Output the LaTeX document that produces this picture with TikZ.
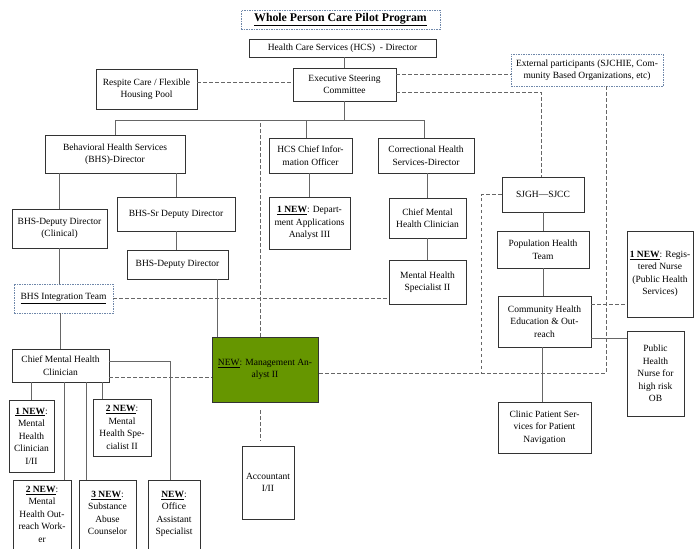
\documentclass[tikz,border=0pt]{standalone}
\usepackage{fontspec}
\setmainfont{Liberation Serif}
\begin{document}
\begin{tikzpicture}[x=1pt,y=-1pt,
  box/.style={draw=black!80, line width=0.9pt, fill=white, inner sep=0pt, align=center, font=\fontsize{9.5}{12.5}\selectfont},
  dbox/.style={draw={rgb,255:red,110;green,135;blue,170}, line width=0.8pt, dash pattern=on 1.5pt off 1pt, fill=white, inner sep=0pt, align=center, font=\fontsize{9.5}{12.5}\selectfont},
  txt/.style={inner sep=0pt, align=center, font=\fontsize{9.5}{12.5}\selectfont},
  con/.style={draw=black!60, line width=1pt},
  dcon/.style={draw=black!60, line width=0.9pt, dash pattern=on 3.5pt off 2.5pt}]
\useasboundingbox (0,0) rectangle (694,549);
\clip (0,0) rectangle (694,549);
\definecolor{olive}{RGB}{102,150,0}
% ---- nodes
\node[dbox, minimum width=199, minimum height=19, font=\fontsize{11.8}{13}\selectfont\bfseries] (title) at (340.5,19.5) {\underline{Whole Person Care Pilot Program}};
\node[box, minimum width=187, minimum height=18] (hcs) at (342.5,48) {Health Care Services (HCS) \ - Director};
\node[box, minimum width=103, minimum height=33] (exec) at (344.5,84.5) {Executive Steering\\Committee};
\node[box, minimum width=101, minimum height=40] (respite) at (146.5,89) {Respite Care / Flexible\\Housing Pool};
\node[dbox, minimum width=152, minimum height=32] (ext) at (587,70) {External participants (SJCHIE, Com-\\munity Based Organizations, etc)};
\node[box, minimum width=140, minimum height=38] (bhs) at (115,154) {Behavioral Health Services\\(BHS)-Director};
\node[box, minimum width=83, minimum height=35] (cio) at (310.5,155.5) {HCS Chief Infor-\\mation Officer};
\node[box, minimum width=96, minimum height=35] (corr) at (426,155.5) {Correctional Health\\Services-Director};
\node[box, minimum width=95, minimum height=39] (clinical) at (59.5,228.5) {BHS-Deputy Director\\(Clinical)};
\node[box, minimum width=118, minimum height=34] (sr) at (176,214) {BHS-Sr Deputy Director};
\node[box, minimum width=101, minimum height=29] (dep) at (177.5,264.5) {BHS-Deputy Director};
\node[box, minimum width=81, minimum height=52] (daa) at (309.5,223) {\underline{\textbf{1 NEW}}: Depart-\\ment Applications\\Analyst III};
\node[box, minimum width=77, minimum height=40] (cmhcR) at (427.5,218) {Chief Mental\\Health Clinician};
\node[box, minimum width=77, minimum height=44] (mhsR) at (427.5,282) {Mental Health\\Specialist II};
\node[dbox, minimum width=99, minimum height=29] (integ) at (63.5,298.5) {\underline{BHS Integration Team}};
\node[box, minimum width=106, minimum height=65, fill=olive] (ma) at (265,369.5) {\underline{NEW}: Management An-\\alyst II};
\node[box, minimum width=97, minimum height=33] (cmhcL) at (60.5,365.5) {Chief Mental Health\\Clinician};
\node[box, minimum width=82, minimum height=35] (sjgh) at (543,194.5) {SJGH—SJCC};
\node[box, minimum width=92, minimum height=37] (pop) at (543,249.5) {Population Health\\Team};
\node[box, minimum width=93, minimum height=51] (che) at (544.5,321.5) {Community Health\\Education \& Out-\\reach};
\node[box, minimum width=93, minimum height=51] (clinic) at (544.5,427.5) {Clinic Patient Ser-\\vices for Patient\\Navigation};
\node[box, minimum width=66, minimum height=86] (rn) at (660,274) {\underline{\textbf{1 NEW}}: Regis-\\tered Nurse\\(Public Health\\Services)};
\node[box, minimum width=57, minimum height=85] (phn) at (655.5,373.5) {Public\\Health\\Nurse for\\high risk\\OB};
\node[box, minimum width=45, minimum height=72] (mhc1) at (31.5,436) {\underline{\textbf{1 NEW}}:\\Mental\\Health\\Clinician\\I/II};
\node[box, minimum width=58, minimum height=57] (mhsL) at (122,427.5) {\underline{\textbf{2 NEW}}:\\Mental\\Health Spe-\\cialist II};
\node[box, minimum width=58, minimum height=80] (outreach) at (42,520) {};
\node[txt, anchor=north] at (42,486) {\underline{\textbf{2 NEW}}:\\Mental\\Health Out-\\reach Work-\\er};
\node[box, minimum width=57, minimum height=80] (sac) at (107.5,520) {};
\node[txt, anchor=north] at (107.5,491) {\underline{\textbf{3 NEW}}:\\Substance\\Abuse\\Counselor};
\node[box, minimum width=52, minimum height=80] (oas) at (174,520) {};
\node[txt, anchor=north] at (174,491) {\underline{\textbf{NEW}}:\\Office\\Assistant\\Specialist};
\node[box, minimum width=52, minimum height=73] (acct) at (268,482.5) {Accountant\\I/II};
% ---- solid connectors
\coordinate (busy) at (0,120);
\draw[con] (hcs.south -| exec.north) -- (exec.north);
\draw[con] (exec.south) -- (exec.south |- busy);
\draw[con] (bhs.north) -- (bhs.north |- busy) -- ([xshift=-2]corr.north |- busy) -- ([xshift=-2]corr.north);
\draw[con] ([xshift=-4.5]cio.north) -- ([xshift=-4.5]cio.north |- busy);
\draw[con] (clinical.north) -- (clinical.north |- bhs.south);
\draw[con] (sr.north) -- (sr.north |- bhs.south);
\draw[con] ([xshift=-1]dep.north) -- ([xshift=-1]dep.north |- sr.south);
\draw[con] ([xshift=39.5]dep.south) -- ([xshift=39.5]dep.south |- ma.north);
\draw[con] (daa.north) -- (daa.north |- cio.south);
\draw[con] (cmhcR.north) -- (cmhcR.north |- corr.south);
\draw[con] (mhsR.north) -- (mhsR.north |- cmhcR.south);
\draw[con] (clinical.south) -- (clinical.south |- integ.north);
\draw[con] (cmhcL.north) -- (cmhcL.north |- integ.south);
\draw[con] (mhc1.north) -- (mhc1.north |- cmhcL.south);
\draw[con] ([xshift=22]outreach.north) -- ([xshift=22]outreach.north |- cmhcL.south);
\draw[con] ([xshift=-21.5]sac.north) -- ([xshift=-21.5]sac.north |- cmhcL.south);
\draw[con] ([xshift=-20]mhsL.north) -- ([xshift=-20]mhsL.north |- cmhcL.south);
\draw[con] ([yshift=4.5]cmhcL.east) -| ([xshift=-4]oas.north);
\draw[con] (sjgh.south) -- (sjgh.south |- pop.north);
\draw[con] (pop.south) -- (pop.south |- che.north);
\draw[con] ([xshift=-2]che.south) -- ([xshift=-2]che.south |- clinic.north);
\draw[con] ([yshift=-16.5]che.east) coordinate (c3) -- (c3 -| phn.west);
% ---- dashed connectors
\draw[dcon] ([yshift=7]respite.east) coordinate (r1) -- (r1 -| exec.west);
\draw[dcon] ([yshift=10.5]exec.east) coordinate (e1) -- (e1 -| ext.west);
\draw[dcon] ([yshift=-7.5]exec.east) -| ([xshift=-2]sjgh.north);
\draw[dcon] ([xshift=-5]ma.north) -- ([xshift=-5]ma.north |- busy);
\draw[dcon] (integ.east) -- (integ.east -| mhsR.west);
\draw[dcon] ([yshift=-11.5]cmhcL.east) coordinate (c1) -- (c1 -| ma.west);
\draw[dcon] ([xshift=19]ext.south) |- ([yshift=-3.5]ma.east);
\coordinate (lx) at (481,373);
\draw[dcon] (sjgh.west) -| (lx);
\draw[dcon] ([yshift=17.5]che.east) coordinate (c2) -- (c2 -| rn.west);
\draw[dcon, shorten <=8pt, shorten >=5pt] ([xshift=-5]ma.south) -- ([xshift=-5]ma.south |- acct.north);
\end{tikzpicture}
\end{document}
